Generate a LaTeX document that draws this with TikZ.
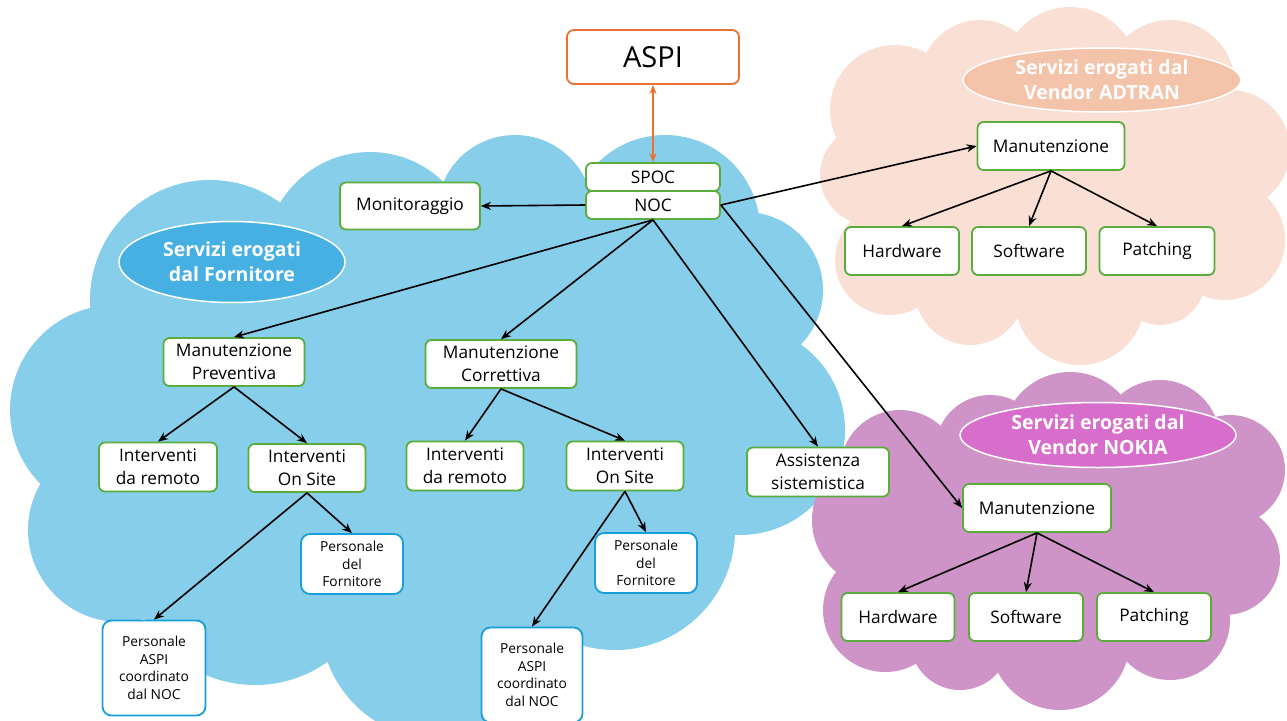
\documentclass[tikz,border=0pt]{standalone}
\usepackage{fontspec}
\setmainfont{Open Sans}
\usetikzlibrary{arrows.meta,shapes.geometric}
\definecolor{cloudblue}{RGB}{134,206,234}
\definecolor{ellblue}{RGB}{69,176,225}
\definecolor{cloudpeach}{RGB}{250,224,212}
\definecolor{ellpeach}{RGB}{244,196,170}
\definecolor{cloudpurple}{RGB}{207,148,199}
\definecolor{ellpurple}{RGB}{216,110,204}
\definecolor{boxgreen}{RGB}{90,172,60}
\definecolor{boxblue}{RGB}{25,158,215}
\definecolor{aspiorange}{RGB}{233,113,50}
\tikzset{
  gbox/.style={draw=boxgreen, line width=1.8pt, rounded corners=6pt, fill=white,
    align=center, inner sep=0pt, font=\fontsize{17.3}{23}\selectfont},
  pbox/.style={draw=boxblue, line width=1.8pt, rounded corners=9pt, fill=white,
    align=center, inner sep=0pt, font=\fontsize{13.8}{17.5}\selectfont},
  titleell/.style={ellipse, draw=white, line width=1.5pt, text=white, align=center,
    inner sep=0pt, font=\fontsize{19.5}{25}\selectfont\bfseries},
  conn/.style={-{Stealth[length=10pt,width=8pt]}, line width=1.6pt, black},
}
\begin{document}
\begin{tikzpicture}[x=1pt,y=-1pt]
\useasboundingbox (0,0) rectangle (1287,720);

% ---------- blue cloud ----------
\begin{scope}[fill=cloudblue]
\fill (210,300) -- (370,257) -- (515,213) -- (665,230) -- (745,290) -- (740,430)
  -- (615,530) -- (440,620) -- (255,560) -- (120,530) -- (115,410) -- cycle;
\fill (210,300) circle[radius=120pt];
\fill (370,257) circle[radius=105pt];
\fill (515,213) circle[radius=78pt];
\fill (665,230) circle[radius=95pt];
\fill (745,290) circle[radius=78pt];
\fill (740,430) circle[radius=105pt];
\fill (615,530) circle[radius=120pt];
\fill (440,620) circle[radius=120pt];
\fill (255,560) circle[radius=125pt];
\fill (120,530) circle[radius=92pt];
\fill (115,410) circle[radius=105pt];
\fill (400,420) circle[radius=200pt];
\end{scope}

% ---------- peach cloud ----------
\begin{scope}[fill=cloudpeach]
\fill (895,110) -- (980,80) -- (1070,75) -- (1170,85) -- (1230,150) -- (1225,240)
  -- (1160,280) -- (1080,300) -- (970,290) -- (890,260) -- (870,175) -- cycle;
\fill (895,110) circle[radius=65pt];
\fill (980,80) circle[radius=60pt];
\fill (1070,75) circle[radius=68pt];
\fill (1170,85) circle[radius=65pt];
\fill (1230,150) circle[radius=60pt];
\fill (1225,240) circle[radius=60pt];
\fill (1160,280) circle[radius=45pt];
\fill (1080,300) circle[radius=65pt];
\fill (970,290) circle[radius=55pt];
\fill (890,260) circle[radius=55pt];
\fill (870,175) circle[radius=50pt];
\end{scope}

% ---------- purple cloud ----------
\begin{scope}[fill=cloudpurple]
\fill (900,470) -- (990,450) -- (1070,440) -- (1160,440) -- (1230,470) -- (1225,560)
  -- (1170,620) -- (1060,640) -- (960,640) -- (885,610) -- (880,520) -- cycle;
\fill (900,470) circle[radius=60pt];
\fill (880,520) circle[radius=68pt];
\fill (885,610) circle[radius=62pt];
\fill (960,640) circle[radius=50pt];
\fill (1060,640) circle[radius=70pt];
\fill (1170,620) circle[radius=60pt];
\fill (1225,560) circle[radius=55pt];
\fill (1230,470) circle[radius=55pt];
\fill (1160,440) circle[radius=60pt];
\fill (1070,440) circle[radius=68pt];
\fill (990,450) circle[radius=55pt];
\end{scope}

% ---------- title ellipses ----------
\node[titleell, fill=ellblue, minimum width=226pt, minimum height=81pt] (tforn) at (232,262) {Servizi erogati\\dal Fornitore};
\node[titleell, fill=ellpeach, minimum width=278pt, minimum height=64pt] (tadtran) at (1102,80) {Servizi erogati dal\\Vendor ADTRAN};
\node[titleell, fill=ellpurple, minimum width=276pt, minimum height=65pt] (tnokia) at (1098,435) {Servizi erogati dal\\Vendor NOKIA};

% ---------- nodes ----------
\node[draw=aspiorange, line width=1.8pt, rounded corners=7pt, fill=white, inner sep=0pt,
  minimum width=172pt, minimum height=54pt, font=\fontsize{29}{34}\selectfont] (aspi) at (653,57) {ASPI};
\node[gbox, minimum width=134pt, minimum height=28pt] (spoc) at (653,177) {SPOC};
\node[gbox, minimum width=134pt, minimum height=28pt] (noc) at (653,205) {NOC};
\node[gbox, minimum width=140pt, minimum height=47pt] (mon) at (410,206) {Monitoraggio};
\node[gbox, minimum width=141pt, minimum height=48pt] (mp) at (234,362) {Manutenzione\\Preventiva};
\node[gbox, minimum width=151pt, minimum height=48pt] (mc) at (501,364) {Manutenzione\\Correttiva};
\node[gbox, minimum width=118pt, minimum height=49pt] (ir1) at (158,467) {Interventi\\da remoto};
\node[gbox, minimum width=117pt, minimum height=48pt] (ios1) at (307,468) {Interventi\\On Site};
\node[gbox, minimum width=117pt, minimum height=49pt] (ir2) at (465,466) {Interventi\\da remoto};
\node[gbox, minimum width=117pt, minimum height=49pt] (ios2) at (625,466) {Interventi\\On Site};
\node[gbox, minimum width=142pt, minimum height=49pt] (ass) at (818,472) {Assistenza\\sistemistica};
\node[pbox, minimum width=102pt, minimum height=60pt] (pf1) at (352,564) {Personale\\del\\Fornitore};
\node[pbox, minimum width=103pt, minimum height=95pt] (pa1) at (154,668) {Personale\\ASPI\\coordinato\\dal NOC};
\node[pbox, minimum width=102pt, minimum height=60pt] (pf2) at (646,563) {Personale\\del\\Fornitore};
\node[pbox, minimum width=101pt, minimum height=95pt] (pa2) at (532,675) {Personale\\ASPI\\coordinato\\dal NOC};

\node[gbox, minimum width=147pt, minimum height=48pt] (adm) at (1051,146) {Manutenzione};
\node[gbox, minimum width=114pt, minimum height=48pt] (adhw) at (902,251) {Hardware};
\node[gbox, minimum width=114pt, minimum height=48pt] (adsw) at (1029,251) {Software};
\node[gbox, minimum width=115pt, minimum height=48pt] (adpt) at (1157,251) {Patching};

\node[gbox, minimum width=148pt, minimum height=48pt] (nkm) at (1037,508) {Manutenzione};
\node[gbox, minimum width=113pt, minimum height=48pt] (nkhw) at (898,617) {Hardware};
\node[gbox, minimum width=114pt, minimum height=48pt] (nksw) at (1026,617) {Software};
\node[gbox, minimum width=114pt, minimum height=48pt] (nkpt) at (1154,617) {Patching};

% ---------- connectors ----------
\draw[{Stealth[length=9pt,width=7pt]}-{Stealth[length=9pt,width=7pt]}, line width=1.5pt, aspiorange] (aspi.south) -- (spoc.north);
\draw[conn] (noc.west) -- (mon.east);
\draw[conn] (noc.east) -- (adm.west);
\draw[conn] (noc.east) -- (nkm.west);
\draw[conn] (noc.south) -- (mp.north);
\draw[conn] (noc.south) -- (mc.north);
\draw[conn] (noc.south) -- (ass.north);
\draw[conn] (mp.south) -- (ir1.north);
\draw[conn] (mp.south) -- (ios1.north);
\draw[conn] (mc.south) -- (ir2.north);
\draw[conn] (mc.south) -- (ios2.north);
\draw[conn] (ios1.south) -- (pf1.north);
\draw[conn] (ios1.south) -- (pa1.north);
\draw[conn] (ios2.south) -- (pf2.north);
\draw[conn] (ios2.south) -- (pa2.north);
\draw[conn] (adm.south) -- (adhw.north);
\draw[conn] (adm.south) -- (adsw.north);
\draw[conn] (adm.south) -- (adpt.north);
\draw[conn] (nkm.south) -- (nkhw.north);
\draw[conn] (nkm.south) -- (nksw.north);
\draw[conn] (nkm.south) -- (nkpt.north);
\end{tikzpicture}
\end{document}
